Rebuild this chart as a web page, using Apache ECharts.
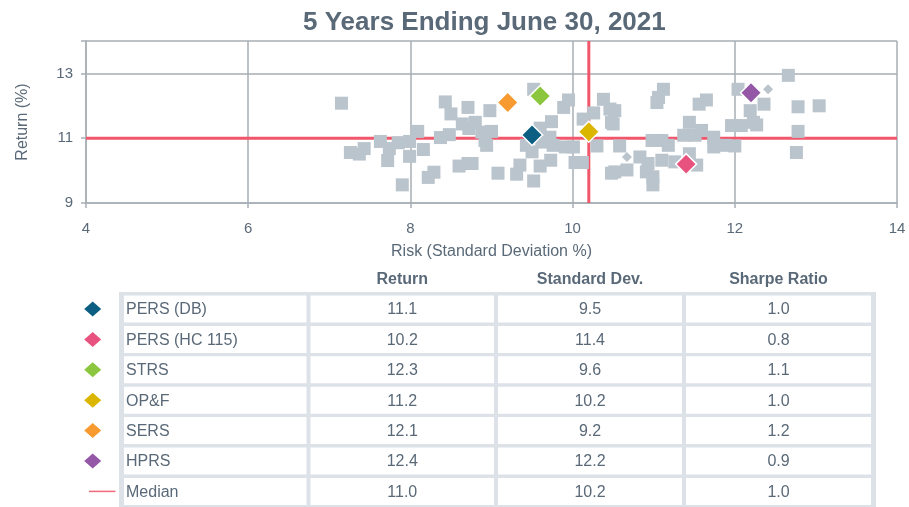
<!DOCTYPE html>
<html>
<head>
<meta charset="utf-8">
<script src="https://cdn.jsdelivr.net/npm/echarts@6/dist/echarts.min.js"></script>
<style>html,body{margin:0;padding:0;background:#fff}#chart{width:909px;height:507px}</style>
</head>
<body>
<div id="chart"></div>
<script>
// ---- data ----
const titleText = '5 Years Ending June 30, 2021';
const xTicks = [4, 6, 8, 10, 12, 14];
const yTicks = [9, 11, 13];
const funds = ['PERS (DB)', 'PERS (HC 115)', 'STRS', 'OP&F', 'SERS', 'HPRS'];
const fundReturn = [11.1, 10.2, 12.3, 11.2, 12.1, 12.4];
const fundStdDev = [9.5, 11.4, 9.6, 10.2, 9.2, 12.2];
const fundSharpe = ['1.0', '0.8', '1.1', '1.0', '1.2', '0.9'];
const fundColors = ['#0c5f82', '#e8527e', '#8cc63e', '#dab600', '#f79a30', '#9558a7'];
const medianLabel = 'Median';
const medianReturn = 11.0;
const medianStdDev = 10.2;
const medianSharpe = '1.0';
const tableHeaders = ['Return', 'Standard Dev.', 'Sharpe Ratio'];
// peer universe (risk, return)
const peerPoints = [
  [7.15,12.08],[8.43,12.12],[8.71,11.95],[8.50,11.75],[8.64,11.44],[8.72,11.30],[8.09,11.21],
  [8.37,11.02],[8.48,11.11],[7.63,10.90],[7.85,10.86],[7.99,10.90],[7.74,10.68],[8.16,10.65],
  [7.43,10.68],[7.26,10.56],[7.37,10.51],[7.72,10.31],[7.99,10.44],[8.60,10.14],[8.71,10.22],
  [8.29,9.95],[8.22,9.79],[7.90,9.56],[9.52,12.51],[8.98,11.85],[9.95,12.18],[9.89,11.95],
  [8.80,11.49],[9.00,11.21],[8.94,10.78],[8.88,11.19],[8.92,10.93],[9.74,11.51],[9.60,11.31],
  [9.72,11.03],[9.76,10.78],[9.50,10.58],[9.43,10.78],[9.62,10.88],[9.91,10.73],[10.01,10.73],
  [10.13,11.59],[10.26,11.78],[10.38,12.20],[10.46,11.90],[10.48,11.49],[10.30,10.76],[8.76,10.22],
  [9.08,9.92],[9.35,10.17],[9.31,9.89],[9.60,10.14],[9.73,10.32],[9.52,9.68],[10.03,10.25],
  [10.12,10.25],[10.48,9.92],[11.12,12.51],[11.06,12.26],[11.04,12.10],[11.65,12.18],[11.56,12.05],
  [12.04,12.51],[12.19,11.85],[11.96,11.39],[12.08,11.39],[12.23,11.49],[10.52,11.85],[10.50,11.44],
  [11.44,11.49],[11.59,11.24],[11.37,11.09],[10.98,10.93],[11.10,10.93],[11.18,10.78],[11.51,11.09],
  [11.74,11.03],[11.74,10.73],[11.88,10.78],[12.00,10.76],[10.58,10.76],[10.83,10.42],[10.93,10.22],
  [11.10,10.32],[10.52,9.96],[10.67,10.02],[10.91,9.96],[10.99,9.56],[10.99,9.81],[11.44,10.52],
  [11.53,10.17],[11.26,10.27],[12.66,12.94],[12.36,12.05],[12.27,11.41],[12.78,11.97],[13.04,12.00],
  [12.78,11.21],[12.76,10.56]
];
const peerSmallPoints = [[12.41,12.51],[10.67,10.42]];

// ---- styles ----
const textColor = '#5a6978';
const gridColor = '#a7aeb5';
const peerColor = '#bac4cc';
const medianColor = '#f2566a';
const fontFamily = 'Liberation Sans, Arial, sans-serif';

const chart = echarts.init(document.getElementById('chart'));

// table graphics
const graphics = [];
const tblLeft = 119, tblRight = 876, tblTop = 292, tblBottom = 507;
const colBounds = [[124, 306.5], [310.5, 494], [498, 682], [686, 871]];
const rowTop0 = 295.5, rowPitch = 30.4, rowH = 27;
graphics.push({type: 'rect', shape: {x: tblLeft, y: tblTop, width: tblRight - tblLeft, height: tblBottom - tblTop}, style: {fill: '#dde2e8'}, silent: true});
tableHeaders.forEach((h, i) => {
  const c = colBounds[i + 1];
  graphics.push({type: 'text', style: {text: h, x: (c[0] + c[1]) / 2, y: 280, fill: textColor, font: 'bold 16px ' + fontFamily, align: 'center', verticalAlign: 'middle', textAlign: 'center', textVerticalAlign: 'middle'}});
});
const rows = funds.map((f, i) => [f, fundReturn[i].toFixed(1), fundStdDev[i].toFixed(1), fundSharpe[i]]);
rows.push([medianLabel, medianReturn.toFixed(1), medianStdDev.toFixed(1), medianSharpe]);
rows.forEach((r, ri) => {
  const top = rowTop0 + ri * rowPitch;
  const cy = top + rowH / 2;
  colBounds.forEach((c, ci) => {
    graphics.push({type: 'rect', shape: {x: c[0], y: top, width: c[1] - c[0], height: rowH}, style: {fill: '#ffffff'}});
    graphics.push({type: 'text', style: {text: r[ci], x: ci === 0 ? c[0] + 2 : (c[0] + c[1]) / 2, y: cy + 1, fill: textColor, font: '16px ' + fontFamily, align: ci === 0 ? 'left' : 'center', verticalAlign: 'middle', textAlign: ci === 0 ? 'left' : 'center', textVerticalAlign: 'middle'}});
  });
  if (ri < funds.length) {
    const mx = 92.7, hw = 8.5, hh = 7.5;
    graphics.push({type: 'polygon', shape: {points: [[mx, cy - hh], [mx + hw, cy], [mx, cy + hh], [mx - hw, cy]]}, style: {fill: fundColors[ri]}});
  } else {
    graphics.push({type: 'line', shape: {x1: 89, y1: cy, x2: 115.5, y2: cy}, style: {stroke: '#f06a7a', lineWidth: 1.5}});
  }
});

const option = {
  animation: false,
  backgroundColor: '#ffffff',
  textStyle: {fontFamily: fontFamily},
  title: {
    text: titleText, left: 303, top: 10, padding: 0,
    textStyle: {fontSize: 26, fontWeight: 'bold', color: textColor, fontFamily: fontFamily}
  },
  grid: {left: 86, right: 12, top: 41, bottom: 304, containLabel: false},
  xAxis: {
    type: 'value', min: xTicks[0], max: xTicks[xTicks.length - 1], interval: 2,
    name: 'Risk (Standard Deviation %)', nameLocation: 'middle', nameGap: 41,
    nameTextStyle: {fontSize: 16, color: textColor},
    axisLine: {show: true, lineStyle: {color: gridColor, width: 1.5}},
    axisTick: {show: true, length: 5, lineStyle: {color: gridColor, width: 1.5}},
    axisLabel: {fontSize: 15, color: textColor, margin: 18},
    splitLine: {show: true, lineStyle: {color: gridColor, width: 1.5}}
  },
  yAxis: {
    type: 'value', min: yTicks[0], max: 14, interval: 2,
    name: 'Return (%)', nameLocation: 'middle', nameGap: 55,
    nameTextStyle: {fontSize: 16, color: textColor},
    axisLine: {show: true, lineStyle: {color: gridColor, width: 1.5}},
    axisTick: {show: true, length: 5, lineStyle: {color: gridColor, width: 1.5}},
    axisLabel: {fontSize: 15, color: textColor, margin: 13, formatter: v => (yTicks.indexOf(v) >= 0 ? String(v) : '')},
    splitLine: {show: true, lineStyle: {color: gridColor, width: 1.5}}
  },
  series: [
    {type: 'line', z: 1, symbol: 'none', silent: true, data: [[xTicks[0], medianReturn], [xTicks[xTicks.length - 1], medianReturn]], lineStyle: {color: medianColor, width: 3}},
    {type: 'line', z: 1, symbol: 'none', silent: true, data: [[medianStdDev, yTicks[0]], [medianStdDev, 14]], lineStyle: {color: medianColor, width: 3}},
    {type: 'scatter', z: 3, symbol: 'rect', symbolSize: 13, data: peerPoints, itemStyle: {color: peerColor, opacity: 1}},
    {type: 'scatter', z: 3, symbol: 'diamond', symbolSize: 10, data: peerSmallPoints, itemStyle: {color: peerColor, opacity: 1}}
  ].concat(funds.map((f, i) => ({
    type: 'scatter', name: f, z: 4, symbol: 'diamond', symbolSize: 21,
    data: [[fundStdDev[i], fundReturn[i]]],
    itemStyle: {color: fundColors[i], borderColor: '#ffffff', borderWidth: 1.5, opacity: 1}
  }))),
  graphic: graphics
};
chart.setOption(option);
</script>
</body>
</html>
